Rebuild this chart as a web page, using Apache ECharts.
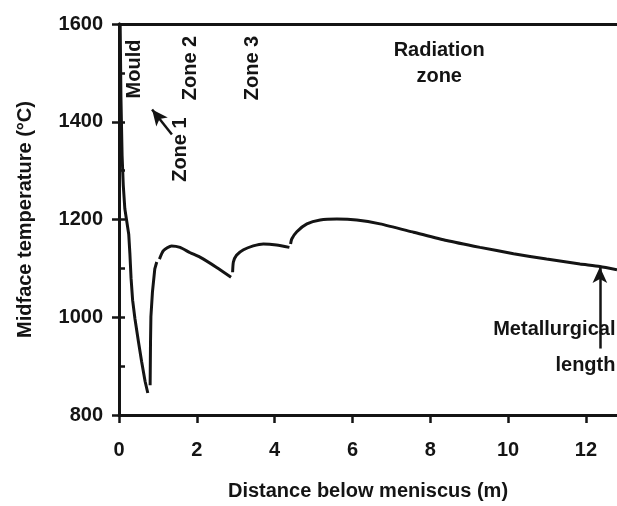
<!DOCTYPE html>
<html>
<head>
<meta charset="utf-8">
<script src="https://cdn.jsdelivr.net/npm/echarts@6/dist/echarts.min.js"></script>
<style>html,body{margin:0;padding:0;background:#fff}#c{width:617px;height:506px}</style>
</head>
<body>
<div id="c"></div>
<script>
// ---- data (distance m, midface temperature °C) ----
var mouldSeg = [[0.03,1600],[0.05,1450],[0.08,1330],[0.11,1270],[0.15,1222],[0.20,1196],[0.25,1170],[0.28,1130],[0.31,1080],[0.35,1035],[0.41,997],[0.50,950],[0.58,910],[0.67,869],[0.74,845]];
var zone1Seg = [[0.80,861],[0.81,950],[0.82,1001],[0.86,1052],[0.92,1099],[0.97,1113]];
var zone2Seg = [[1.04,1119],[1.14,1136],[1.35,1146],[1.57,1143],[1.83,1132],[2.08,1123],[2.51,1102],[2.88,1082]];
var zone3Seg = [[2.92,1092],[2.94,1113],[3.02,1127],[3.20,1138],[3.45,1146],[3.71,1150],[4.05,1148],[4.38,1143]];
var radiationSeg = [[4.41,1150],[4.44,1160],[4.57,1175],[4.83,1191],[5.17,1199],[5.60,1201],[6.11,1199],[6.71,1191],[7.57,1174],[8.42,1157],[9.28,1143],[10.14,1130],[10.99,1119],[11.85,1109],[12.36,1104],[12.80,1097]];
var xTicks = [0,2,4,6,8,10,12];
var yTicks = [800,1000,1200,1400,1600];
var xTitle = 'Distance below meniscus (m)';
var yTitle = 'Midface temperature (°C)';
// annotations in data coordinates
var vertLabels = [
  {text:'Mould', x:0.39, y:1508},
  {text:'Zone 2', x:1.85, y:1510},
  {text:'Zone 3', x:3.44, y:1510},
  {text:'Zone 1', x:1.59, y:1343}
];
var horizLabels = [
  {text:'Radiation', x:8.23, y:1545, align:'center'},
  {text:'zone', x:8.23, y:1492, align:'center'},
  {text:'Metallurgical', x:12.76, y:975, align:'right'},
  {text:'length', x:12.76, y:901, align:'right'}
];
var zone1Arrow = [[1.36,1374],[0.85,1425]];
var metArrow = [[12.36,936],[12.36,1103]];

var FONT = '"Liberation Sans", Arial, Helvetica, sans-serif';
var INK = '#141414';

var chart = echarts.init(document.getElementById('c'), null, {renderer:'canvas'});
function seg(d, sm){
  return {type:'line', data:d, xAxisIndex:0, yAxisIndex:0, symbol:'none', smooth:sm,
    lineStyle:{color:INK, width:3}, silent:true, animation:false};
}
function plain(v){ return String(v); }
var option = {
  animation:false,
  grid:{left:119, right:0, top:24, bottom:89},
  xAxis:[{
    type:'value', min:0, max:12.8, interval:2, position:'bottom',
    axisLine:{show:true, onZero:false, lineStyle:{color:INK, width:3}},
    axisTick:{show:true, length:8, lineStyle:{color:INK, width:2.5}, customValues:xTicks},
    axisLabel:{show:true, margin:25, color:INK, fontSize:20, fontWeight:'bold', fontFamily:FONT, customValues:xTicks, formatter:plain},
    splitLine:{show:false},
    name:xTitle, nameLocation:'middle', nameGap:66,
    nameTextStyle:{color:INK, fontSize:20, fontWeight:'bold', fontFamily:FONT}
  },{
    type:'value', min:0, max:12.8, position:'top',
    axisLine:{show:true, onZero:false, lineStyle:{color:INK, width:3}},
    axisTick:{show:false}, axisLabel:{show:false}, splitLine:{show:false}
  }],
  yAxis:[{
    type:'value', min:800, max:1600, interval:200, position:'left',
    axisLine:{show:true, onZero:false, lineStyle:{color:INK, width:3}},
    axisTick:{show:true, length:7, lineStyle:{color:INK, width:2.5}, customValues:yTicks},
    axisLabel:{show:true, margin:16, color:INK, fontSize:20, fontWeight:'bold', fontFamily:FONT, customValues:yTicks, formatter:plain},
    splitLine:{show:false},
    name:yTitle, nameLocation:'middle', nameGap:84,
    nameTextStyle:{color:INK, fontSize:20, fontWeight:'bold', fontFamily:FONT}
  },{
    type:'value', min:800, max:1600, interval:200, position:'left',
    axisLine:{show:true, onZero:false, lineStyle:{color:INK, width:3}},
    axisTick:{show:true, inside:true, length:6, lineStyle:{color:INK, width:2.5}},
    minorTick:{show:true, splitNumber:2, length:6, lineStyle:{color:INK, width:2.5}},
    axisLabel:{show:false}, splitLine:{show:false}, minorSplitLine:{show:false}
  }],
  series:[
    seg(mouldSeg, false), seg(zone1Seg, false), seg(zone2Seg, 0.2), seg(zone3Seg, 0.2), seg(radiationSeg, 0.2),
    {type:'line', data:[], xAxisIndex:0, yAxisIndex:0, symbol:'none', silent:true,
      markLine:{silent:true, animation:false, symbol:['none','arrow'], symbolSize:[11,16],
        label:{show:false}, lineStyle:{color:INK, width:2.5, type:'solid'},
        emphasis:{disabled:true},
        data:[
          [{coord:zone1Arrow[0]},{coord:zone1Arrow[1]}],
          [{coord:metArrow[0]},{coord:metArrow[1]}]
        ]}}
  ]
};
chart.setOption(option);

var graphics = [];
vertLabels.forEach(function(l){
  var p = chart.convertToPixel({xAxisIndex:0, yAxisIndex:0}, [l.x, l.y]);
  graphics.push({type:'text', x:p[0], y:p[1], rotation:Math.PI/2, silent:true,
    style:{text:l.text, fill:INK, font:'bold 20px ' + FONT, align:'center', verticalAlign:'middle'}});
});
horizLabels.forEach(function(l){
  var p = chart.convertToPixel({xAxisIndex:0, yAxisIndex:0}, [l.x, l.y]);
  graphics.push({type:'text', x:p[0], y:p[1], silent:true,
    style:{text:l.text, fill:INK, font:'bold 20px ' + FONT, align:l.align, verticalAlign:'middle'}});
});
chart.setOption({graphic:graphics});
</script>
</body>
</html>
